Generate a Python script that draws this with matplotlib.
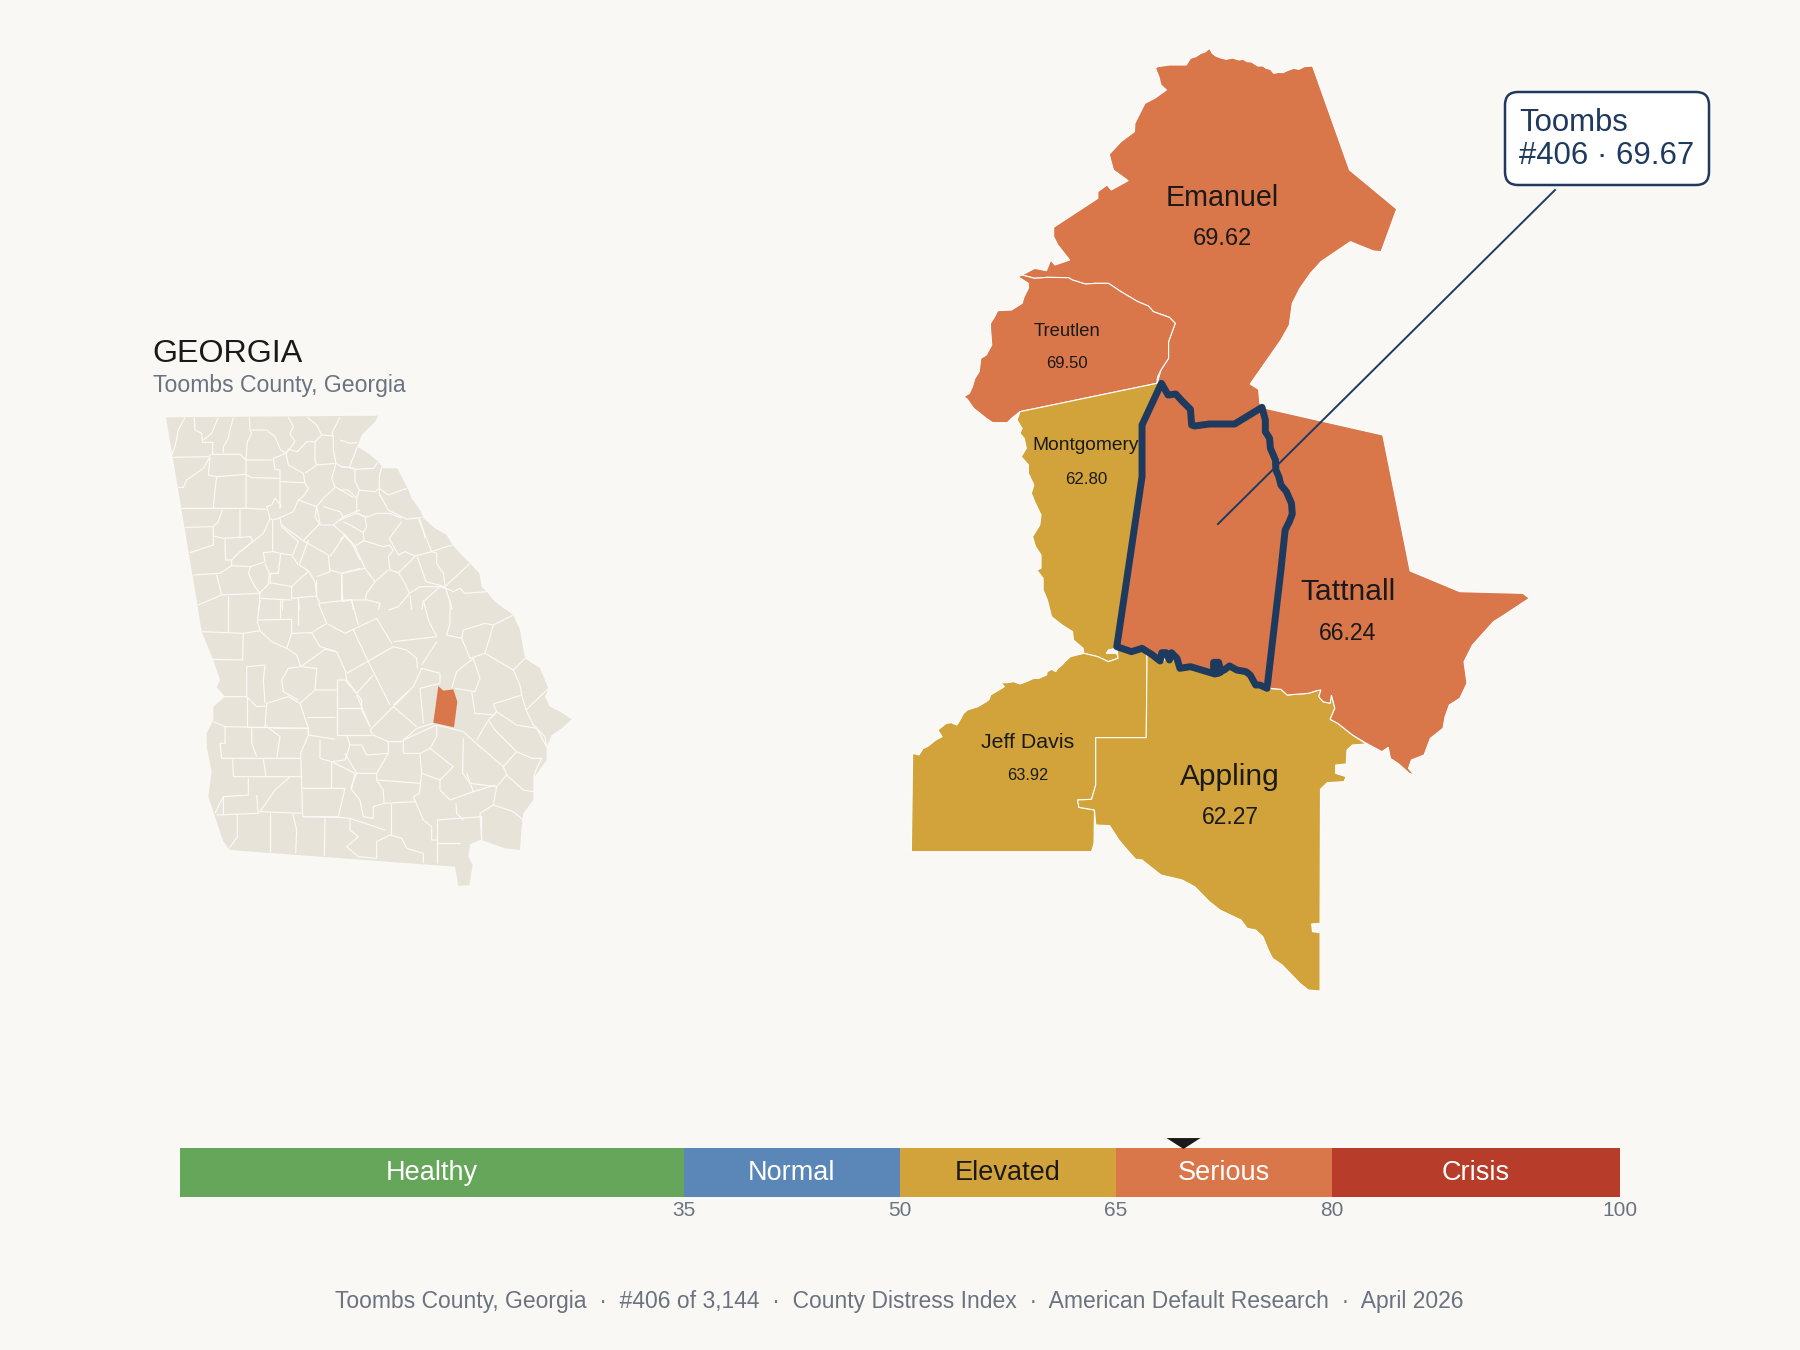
import numpy as np
import matplotlib
matplotlib.use("Agg")
import matplotlib.pyplot as plt
from matplotlib.collections import LineCollection
from matplotlib.patches import FancyBboxPatch, Polygon
from matplotlib.path import Path

plt.rcParams['font.family'] = ['Liberation Sans', 'DejaVu Sans']

# index bands
band_names = ["Healthy", "Normal", "Elevated", "Serious", "Crisis"]
band_breaks = [0, 35, 50, 65, 80, 100]
band_colors = ["#66a65a", "#5b87b8", "#d2a33b", "#d9764a", "#b73c2a"]
band_text = ["white", "white", "#1a1a1a", "white", "white"]
tick_values = [35, 50, 65, 80, 100]

# counties
focus_name = "Toombs"
focus_score = 69.67
focus_rank = 406
county_total = 3144
county_names = ["Emanuel", "Treutlen", "Montgomery", "Jeff Davis", "Appling", "Tattnall"]
county_scores = [69.62, 69.50, 62.80, 63.92, 62.27, 66.24]

# county outlines, map units
emanuel = [(735,55),(742,70),(750,78),(765,85),(775,88),(790,84),(805,90),(815,88),(825,95),(835,96),(850,108),(862,108),
           (870,115),(880,118),(888,130),(900,127),(910,128),(920,122),(935,115),(948,118),(960,110),(980,108),
           (1068,420),(1180,537),(1143,665),(1125,663),(1095,648),(1070,635),(1000,695),(975,730),(950,775),(932,820),
           (925,885),(905,930),(832,1062),(852,1078),(855,1120),(860,1132),(795,1182),(735,1182),(700,1188),(693,1185),
           (690,1138),(668,1110),(655,1092),(637,1095),(621,1060),(612,1055),(620,1020),(638,985),(638,935),(654,880),
           (640,862),(602,845),(590,828),(565,815),(525,785),(505,768),(495,760),(465,760),(440,762),(410,750),(400,743),
           (350,742),(320,745),(290,735),(320,715),(348,722),(358,690),(368,705),(403,690),(375,645),(365,620),(365,592),
           (470,505),(470,485),(492,465),(502,480),(542,452),(507,420),(497,373),(525,335),(557,305),(558,280),(582,220),
           (605,205),(633,180),(620,165),(615,140),(607,115),(612,110),(640,105),(680,105),(690,85),(703,80),(715,70),(725,66)]
treutlen = [(290,735),(280,740),(305,760),(305,775),(295,800),(290,820),(265,840),(232,842),(225,860),(215,880),(215,895),
            (218,945),(205,975),(192,985),(188,1025),(178,1045),(172,1070),(165,1090),(152,1100),(160,1108),(175,1135),
            (190,1150),(205,1165),(220,1178),(255,1178),(265,1165),(285,1145),(610,1060),(612,1040),(620,1020),(638,985),
            (638,935),(654,880),(640,862),(602,845),(590,828),(565,815),(525,785),(505,768),(495,760),(465,760),(440,762),
            (410,750),(400,743),(350,742),(320,745)]
montgomery = [(285,1145),(610,1060),(621,1060),(575,1185),(575,1340),(515,1850),(512,1855),(495,1860),(490,1870),(515,1870),
              (518,1885),(495,1895),(470,1880),(437,1870),(435,1855),(412,1830),(410,1805),(385,1785),(360,1760),(350,1710),
              (340,1680),(340,1645),(325,1620),(335,1615),(335,1575),(322,1550),(315,1520),(332,1485),(335,1455),(320,1415),
              (312,1390),(318,1365),(305,1330),(305,1305),(288,1280),(300,1255),(295,1225),(285,1210),(290,1195),(278,1170)]
jeff_davis = [(437,1870),(420,1875),(405,1880),(392,1895),(385,1905),(375,1915),(370,1925),(360,1918),(350,1925),(348,1935),
              (330,1945),(318,1945),(300,1955),(285,1962),(270,1955),(255,1958),(240,1958),(248,1970),(235,1980),(215,1995),
              (212,2008),(205,2015),(185,2030),(160,2040),(150,2052),(145,2065),(135,2085),(122,2078),(110,2080),(95,2095),
              (90,2100),(100,2120),(85,2130),(65,2150),(55,2155),(45,2175),(30,2170),(27,2465),(455,2465),(461,2440),
              (462,2340),(425,2332),(422,2310),(455,2308),(465,2265),(465,2123),(585,2123),(587,1880),(575,1850),(550,1862),
              (515,1850),(518,1885),(495,1895),(470,1880)]
appling = [(587,1870),(600,1875),(622,1895),(650,1875),(665,1915),(690,1910),(748,1932),(755,1900),(770,1920),(783,1908),
           (800,1920),(822,1925),(832,1935),(845,1965),(872,1975),(905,1978),(920,1995),(970,1990),(990,1982),(1000,1980),
           (995,2000),(1005,2015),(1022,2020),(1025,1995),(1033,2035),(1022,2068),(1040,2080),(1075,2115),(1108,2142),
           (1075,2145),(1062,2160),(1060,2202),(1035,2205),(1035,2230),(1060,2240),(1055,2255),(1015,2258),(999,2278),
           (998,2680),(978,2682),(980,2705),(998,2708),(998,2883),(970,2880),(950,2860),(908,2805),(885,2785),(875,2760),
           (862,2720),(845,2700),(825,2695),(810,2670),(760,2640),(735,2615),(700,2570),(670,2550),(620,2535),(575,2490),
           (560,2488),(540,2460),(520,2430),(498,2387),(465,2385),(462,2340),(425,2332),(422,2310),(455,2308),(465,2265),
           (465,2123),(585,2123)]
tattnall = [(868,1135),(1147,1215),(1212,1623),(1330,1685),(1480,1690),(1495,1705),(1435,1755),(1410,1775),(1385,1810),
            (1360,1845),(1340,1895),(1347,1960),(1330,2005),(1305,2025),(1295,2060),(1290,2095),(1260,2125),(1245,2175),
            (1215,2190),(1208,2215),(1222,2235),(1210,2230),(1185,2202),(1165,2185),(1160,2152),(1145,2165),(1108,2140),
            (1075,2115),(1040,2080),(1022,2068),(1033,2035),(1025,1995),(1022,2020),(1005,2015),(995,2000),(1000,1980),
            (990,1982),(970,1990),(920,1995),(905,1978),(880,1975)]
toombs = [(621,1060),(637,1095),(655,1092),(668,1110),(690,1138),(693,1185),(700,1188),(735,1182),(795,1182),(860,1132),
          (868,1170),(868,1205),(878,1225),(880,1255),(892,1290),(893,1320),(900,1340),(905,1365),(918,1385),(930,1420),
          (932,1452),(925,1475),(915,1500),(905,1620),(890,1780),(872,1975),(855,1965),(845,1965),(832,1935),(822,1925),
          (800,1920),(783,1908),(770,1920),(762,1925),(757,1897),(745,1897),(745,1928),(760,1928),(748,1932),(690,1910),
          (665,1915),(658,1885),(645,1868),(640,1890),(632,1868),(622,1868),(618,1893),(600,1875),(575,1855),(550,1865),
          (515,1850),(575,1340),(575,1185)]
county_shapes = [emanuel, treutlen, montgomery, jeff_davis, appling, tattnall]

# state inset: outline and county lines in the units of three crops
coast_north = [(115,17),(105,35),(80,60),(65,75),(52,110),(85,130),(115,155),(130,175),(172,175),(190,210),(205,240),
               (215,265),(240,300),(250,325),(285,355),(320,375),(338,405),(365,435),(390,460),(418,490),(425,530),
               (440,545),(465,575),(495,598)]
state_south = [(975,27),(1000,45),(1020,90),(1035,175),(1080,205),(1105,265),(1095,290),(1110,320),(1140,335),(1175,358),
               (1145,385),(1115,405),(1100,440),(1100,480),(1060,535),(1060,600),(1030,640),(1025,680),(1020,750),(975,745),
               (905,720),(870,735),(865,770),(878,795),(868,855),(835,858),(825,800),(150,750),(130,725),(105,650),(85,590),
               (95,515),(80,440),(80,400),(100,360),(100,320),(135,290),(110,262),(120,240),(100,180),(65,95),(50,0)]
state_corner = [(78,292)]
state_toombs = [(775,258),(790,272),(820,268),(832,305),(822,382),(760,368)]
west_lines = [
    [(75,22),(55,60),(45,110),(35,135)], [(103,22),(105,60),(125,70),(128,97),(158,97),(158,133)],
    [(175,22),(155,70),(130,90)], [(220,22),(210,60),(205,85),(190,110),(190,128)],
    [(268,22),(270,60),(275,70),(262,95),(258,150),(258,295)],
    [(275,60),(320,60),(345,80),(362,120),(378,130),(340,145),(345,178),(360,180),(360,295)],
    [(38,142),(145,140),(155,133),(240,133),(258,150),(335,150)], [(385,22),(400,50),(390,70),(405,95),(378,130)],
    [(442,22),(470,45),(485,75),(465,95),(465,150),(470,165),(435,190)], [(378,130),(385,118),(412,125),(440,95),(465,95)],
    [(378,130),(385,165),(430,190),(435,220),(445,235),(430,260),(415,270),(400,305)],
    [(485,75),(520,78),(520,120),(528,160),(470,165)], [(540,22),(515,70),(520,78)],
    [(528,160),(515,205),(525,230),(580,262)], [(528,160),(545,170),(585,175)],
    [(150,140),(145,195),(170,200),(258,193),(275,203),(360,205)], [(150,140),(130,175),(80,210),(70,232),(55,232)],
    [(170,200),(165,240),(160,295),(65,295)], [(160,295),(258,295),(318,298)], [(360,215),(435,218)],
    [(360,295),(362,285),(345,265),(335,285),(320,290),(330,325),(338,330),(355,325),(400,305)],
    [(415,270),(470,290),(490,265),(525,232)], [(187,298),(175,335),(160,350),(75,352)],
    [(160,350),(160,378),(190,385),(240,382),(240,298)], [(160,378),(160,405),(90,428)], [(195,388),(197,450),(215,450)],
    [(240,382),(272,380),(278,395),(240,425),(215,450),(215,467),(180,490),(100,495)], [(330,325),(310,370),(240,425)],
    [(338,330),(338,425),(310,428),(315,455),(272,470),(215,467)], [(338,425),(362,430),(355,490),(332,490),(330,518),(300,548)],
    [(362,430),(395,435),(415,465)], [(360,325),(365,350),(415,395),(398,435)], [(365,345),(430,392),(480,340),(470,290)],
    [(470,290),(465,320),(480,345),(520,345),(550,320),(540,305),(490,290)], [(520,345),(555,375),(510,440)],
    [(430,392),(505,435),(510,485),(470,500)], [(445,390),(418,465),(445,482),(465,515)],
    [(272,470),(265,490),(285,530),(300,550),(185,555),(170,495)], [(315,460),(328,490),(325,518)],
    [(330,518),(395,530),(415,510),(440,490),(445,482)], [(395,530),(395,565),(470,558),(465,515)], [(300,550),(298,570)],
    [(185,555),(115,585)], [(205,558),(205,600)], [(470,510),(470,560),(480,580),(575,568)], [(510,480),(545,490),(600,475)],
    [(545,490),(548,570)], [(550,375),(575,400),(600,450)], [(365,565),(365,600)], [(415,565),(418,600)],
    [(300,570),(295,600)], [(550,320),(600,300)], [(298,565),(395,570)],
]
east_lines = [
    [(0,90),(30,100),(52,97)], [(52,110),(28,172)], [(0,170),(28,172),(45,178),(100,175),(115,155)],
    [(45,178),(45,215),(58,240),(50,265),(50,310),(75,320)], [(125,170),(118,200),(118,250),(120,260)],
    [(58,240),(105,245),(118,235),(145,255),(200,235)], [(0,240),(25,240),(50,265)],
    [(120,255),(145,300),(200,328),(245,322)], [(50,310),(10,325),(0,332)],
    [(50,310),(75,320),(85,320),(110,310),(150,310),(185,325)], [(75,320),(80,350),(70,368),(30,345),(10,335)],
    [(70,368),(72,392),(45,408),(25,385),(15,375),(0,390)],
    [(72,392),(130,410),(148,405),(160,420),(145,440),(150,480),(175,488),(215,450),(225,438)],
    [(185,335),(148,385),(175,435),(195,425),(225,438),(275,425),(320,410),(338,405)],
    [(235,325),(275,425),(290,430),(290,460),(310,490),(315,525)], [(238,325),(250,360),(255,385)],
    [(232,440),(258,515),(315,530),(390,460)], [(45,408),(75,475),(5,490),(5,570)], [(75,475),(105,515),(145,480)],
    [(175,488),(195,520),(208,550),(240,530),(300,530),(250,575),(245,600)], [(105,515),(80,550),(75,570),(35,570),(40,600)],
    [(75,568),(120,580),(115,600)], [(208,550),(175,590),(145,600)],
    [(300,530),(330,540),(340,545),(360,535),(375,550),(440,545)], [(315,530),(335,590),(335,600)], [(210,555),(215,600)],
    [(5,575),(35,570)],
]
south_lines = [
    [(65,95),(190,100),(240,92)], [(145,0),(145,95)], [(235,60),(335,58),(335,100),(395,98),(440,70)],
    [(190,100),(188,180),(95,178)], [(240,0),(232,65),(240,92),(275,125),(320,145)], [(300,0),(300,58)], [(355,0),(355,75)],
    [(415,10),(440,70),(495,100),(590,55),(635,130)], [(395,98),(420,140),(470,155)],
    [(335,100),(320,145),(350,165),(362,200),(435,148),(470,155),(497,215),(500,240)], [(515,0),(535,75)],
    [(520,90),(565,185),(630,315)], [(500,220),(640,140),(680,150),(710,175),(712,205)],
    [(640,125),(770,110),(745,60),(730,0)], [(770,125),(725,195)],
    [(810,0),(810,70),(800,105),(845,115),(870,175),(915,160),(940,75),(1000,45)], [(845,115),(850,90),(915,70),(940,75)],
    [(915,160),(1000,210),(1035,175)], [(880,175),(900,235),(885,275),(825,265)], [(880,175),(830,215),(815,265)],
    [(1000,210),(1020,255),(1025,285),(1038,330),(1105,265)], [(1025,285),(940,312)], [(875,275),(885,340),(945,345)],
    [(940,312),(950,335),(925,360),(890,420)], [(950,335),(1010,375),(1070,385),(1100,440)],
    [(1038,330),(1060,375),(1095,410),(1100,440)], [(925,360),(945,390),(985,430),(1010,455)],
    [(1010,455),(1055,475),(1085,475),(1070,505),(1060,535)], [(1010,455),(970,500),(900,440),(850,395),(770,375)],
    [(970,500),(980,525),(1030,570),(1060,575)], [(980,525),(950,560),(940,615),(900,640),(905,720)],
    [(940,615),(1000,635),(1030,660)], [(850,415),(848,520),(870,550),(950,560)], [(720,265),(730,370)],
    [(720,265),(780,250),(780,220),(725,205),(700,260),(640,315)], [(690,270),(570,390)], [(640,320),(710,380)],
    [(570,390),(580,405),(625,425),(665,425),(710,385),(760,370)], [(530,285),(570,380)],
    [(470,240),(500,240),(545,300),(545,330),(570,380)], [(495,240),(530,280),(580,225)],
    [(470,240),(470,405),(575,405)], [(470,325),(545,325)],
    [(470,270),(405,270),(360,310),(385,385),(385,405),(465,418)], [(360,310),(325,290),(260,310),(255,380)],
    [(405,270),(410,205),(360,200),(325,205),(305,240),(310,275),(355,300)],
    [(255,310),(250,240),(255,195),(200,200),(200,290),(100,290)], [(200,290),(200,380),(255,380)],
    [(200,290),(230,320),(255,318)], [(380,350),(465,350)], [(100,365),(135,380),(385,385)],
    [(135,380),(135,430),(120,430),(125,475),(360,475)], [(255,375),(300,410),(290,475)],
    [(280,385),(385,385),(385,405),(362,460),(368,650)], [(215,385),(215,430),(230,470)],
    [(158,478),(160,530),(368,530)], [(250,478),(258,530)], [(205,535),(205,585),(130,590),(130,645)],
    [(230,585),(235,640),(110,645)], [(330,530),(285,570),(240,635),(365,640)], [(368,565),(495,565),(475,650),(368,650)],
    [(420,420),(420,475),(455,485),(455,565)], [(500,405),(510,435),(495,480),(455,485),(525,520),(515,565)],
    [(510,435),(545,435),(560,465),(625,460),(625,425)], [(495,460),(530,520),(590,520),(625,460)],
    [(530,520),(512,565),(540,600),(550,650),(580,655),(580,620),(612,610),(610,570),(590,540),(590,520)],
    [(590,540),(720,550)], [(720,460),(670,460),(670,420),(770,375),(770,410),(750,445),(720,460)],
    [(750,445),(820,500),(780,540)], [(720,460),(725,520),(780,540),(780,570),(810,600),(880,575),(860,520)],
    [(725,520),(718,580),(700,590),(730,660),(755,680),(755,720),(770,720)], [(612,610),(705,605)], [(632,610),(632,705)],
    [(615,690),(510,655),(510,690),(535,710),(500,740),(535,770),(590,775),(590,725),(630,705),(665,715),(680,745),(730,760),(730,790)],
    [(770,660),(770,790)], [(770,660),(905,650),(905,720),(870,735)], [(770,728),(840,728)], [(828,610),(830,640),(850,660)],
    [(880,575),(945,555)], [(172,645),(172,710),(148,745)], [(270,640),(270,755)], [(338,640),(350,690),(347,760)],
    [(435,655),(433,768)], [(368,650),(475,652),(510,655)], [(130,590),(105,640)],
]

BG = "#faf8f4"
INK = "#1a1a1a"
NAVY = "#1f3a5f"
GREY = "#6b7280"
STATE = "#e8e3d8"


def band_color(score):
    return band_colors[np.searchsorted(band_breaks, score, side="right") - 1]


def shift(points, dx, dy):
    return [(x + dx, y + dy) for x, y in points]


fig = plt.figure(figsize=(18, 13.5), dpi=100, facecolor=BG)

# overlay in pixels for text and callout
ax = fig.add_axes([0, 0, 1, 1], zorder=5)
ax.set_xlim(0, 1800)
ax.set_ylim(1350, 0)
ax.axis("off")

# zoomed county map
ax_map = fig.add_axes([900 / 1800, 1 - 1030 / 1350, 660 / 1800, 1000 / 1350])
ax_map.set_xlim(0, 1568)
ax_map.set_ylim(3000, 0)
ax_map.axis("off")
for shape, score in zip(county_shapes, county_scores):
    ax_map.add_patch(Polygon(shape, closed=True, facecolor=band_color(score), edgecolor="white", linewidth=0.8))
ax_map.add_patch(Polygon(toombs, closed=True, facecolor=band_color(focus_score), edgecolor=NAVY,
                         linewidth=5, joinstyle="round"))

# state inset
ax_state = fig.add_axes([140 / 1800, 1 - 1000 / 1350, 460 / 1800, 680 / 1350])
ax_state.set_xlim(0, 1380)
ax_state.set_ylim(2040, 0)
ax_state.axis("off")
state_outline = state_corner + shift(coast_north, 600, 270) + shift(state_south, 120, 840)
ax_state.add_patch(Polygon(state_outline, closed=True, facecolor=STATE, edgecolor="none"))
county_lines = ([shift(l, 60, 270) for l in west_lines] + [shift(l, 600, 270) for l in east_lines]
                + [shift(l, 120, 840) for l in south_lines])
ax_state.add_collection(LineCollection(county_lines, colors="#fbfaf7", linewidths=0.85))
ax_state.add_patch(Polygon(shift(state_toombs, 120, 840), closed=True, facecolor=band_color(focus_score), edgecolor="none"))

ax.text(152, 362, "GEORGIA", fontsize=23.2, color=INK, va="baseline")
ax.text(153, 392, f"{focus_name} County, Georgia", fontsize=16.6, color=GREY, va="baseline")

# county labels
label_pos = [(1222, 198, 239), (1067, 332, 363), (1086, 446, 479), (1027.5, 742, 775), (1230, 777, 818), (1348, 592.5, 633)]
name_sizes = [20.6, 13.2, 13.8, 15.4, 21.5, 21.6]
value_sizes = [17, 12, 12.2, 11.8, 16.5, 16.6]
for name, score, (x, y1, y2), s1, s2 in zip(county_names, county_scores, label_pos, name_sizes, value_sizes):
    ax.text(x, y1, name, fontsize=s1, color=INK, ha="center", va="center")
    ax.text(x, y2, f"{score:.2f}", fontsize=s2, color=INK, ha="center", va="center")

# callout
ax.plot([1555, 1218], [190, 524], color=NAVY, linewidth=1.4)
ax.add_patch(FancyBboxPatch((1505, 92), 204, 93, boxstyle="round,pad=0,rounding_size=13",
                            facecolor="white", edgecolor=NAVY, linewidth=1.8))
ax.text(1519, 123, focus_name, fontsize=22.4, color=NAVY, va="center")
ax.text(1519, 156, f"#{focus_rank} \u00b7 {focus_score}", fontsize=22.4, color=NAVY, va="center")

# index bar
ax_bar = fig.add_axes([180 / 1800, 1 - 1197 / 1350, 1440 / 1800, 49 / 1350], zorder=3)
lefts = np.array(band_breaks[:-1])
widths = np.diff(band_breaks)
ax_bar.barh(0.5, widths, left=lefts, height=1, color=band_colors, linewidth=0)
ax_bar.set_xlim(0, 100)
ax_bar.set_ylim(0, 1)
for name, left, width, color in zip(band_names, lefts, widths, band_text):
    ax_bar.text(left + width / 2, 0.35, name, fontsize=19.5, color=color, ha="center", va="baseline")
for side in ax_bar.spines.values():
    side.set_visible(False)
ax_bar.set_yticks([])
ax_bar.set_xticks(tick_values)
ax_bar.tick_params(axis="x", length=0, pad=3, labelsize=15, labelcolor=GREY)
pointer = Path([(-1, 0.32), (1, 0.32), (0, -0.32), (-1, 0.32)], closed=True)
ax_bar.plot([focus_score], [1.112], marker=pointer, markersize=24.5, color=INK, markeredgewidth=0, clip_on=False)

footer = f"{focus_name} County, Georgia  \u00b7  #{focus_rank} of {county_total:,}  \u00b7  County Distress Index  \u00b7  American Default Research  \u00b7  April 2026"
ax.text(899.5, 1301.5, footer, fontsize=16.5, color=GREY, ha="center", va="center")

fig.savefig("out.png", dpi=100, facecolor=BG)
